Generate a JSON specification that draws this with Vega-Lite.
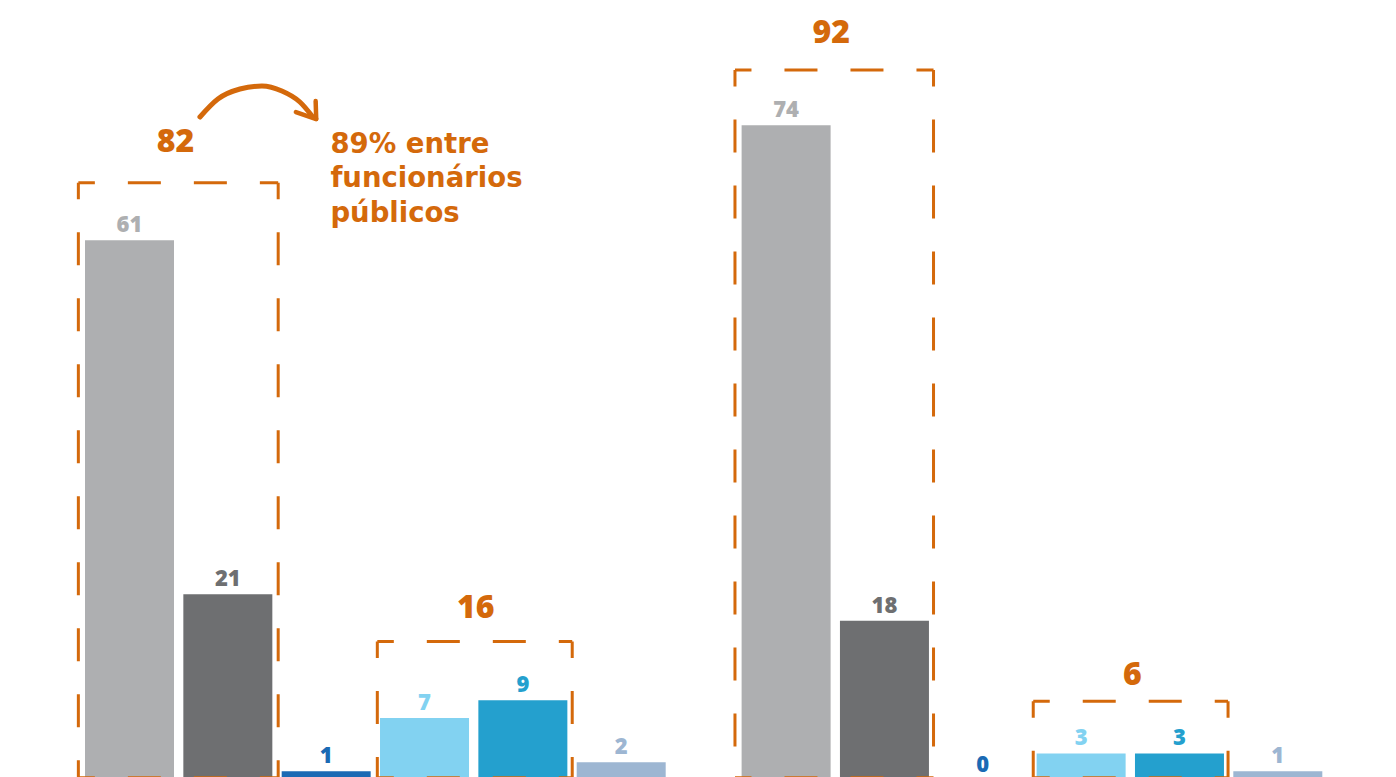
{
  "$schema": "https://vega.github.io/schema/vega-lite/v6.json",
  "width": 1396,
  "height": 777,
  "padding": 0,
  "autosize": {"type": "none"},
  "background": "white",
  "config": {"view": {"stroke": null}},
  "datasets": {
    "bars": [
      {"grupo": "1", "pos": 0, "serie": "s1", "valor": 61},
      {"grupo": "1", "pos": 1, "serie": "s2", "valor": 21},
      {"grupo": "1", "pos": 2, "serie": "s3", "valor": 1},
      {"grupo": "1", "pos": 3, "serie": "s4", "valor": 7},
      {"grupo": "1", "pos": 4, "serie": "s5", "valor": 9},
      {"grupo": "1", "pos": 5, "serie": "s6", "valor": 2},
      {"grupo": "2", "pos": 6.677, "serie": "s1", "valor": 74},
      {"grupo": "2", "pos": 7.677, "serie": "s2", "valor": 18},
      {"grupo": "2", "pos": 8.677, "serie": "s3", "valor": 0},
      {"grupo": "2", "pos": 9.677, "serie": "s4", "valor": 3},
      {"grupo": "2", "pos": 10.677, "serie": "s5", "valor": 3},
      {"grupo": "2", "pos": 11.677, "serie": "s6", "valor": 1}
    ],
    "boxes": [
      {"x1": -0.52, "x2": 1.512, "top": 67.5, "total": "82", "tx": 0.4675, "ty": 70.96},
      {"x1": 2.52, "x2": 4.502, "top": 15.65, "total": "16", "tx": 3.521, "ty": 18.3},
      {"x1": 6.157, "x2": 8.176, "top": 80.23, "total": "92", "tx": 7.136, "ty": 83.28},
      {"x1": 9.19, "x2": 11.171, "top": 8.9, "total": "6", "tx": 10.198, "ty": 10.73}
    ],
    "arc": [
      {"x": 0.7165, "y": 74.92},
      {"x": 0.899, "y": 76.95},
      {"x": 1.123, "y": 78.08},
      {"x": 1.3466, "y": 78.42},
      {"x": 1.5498, "y": 77.85},
      {"x": 1.7327, "y": 76.61},
      {"x": 1.8648, "y": 74.92}
    ],
    "head": [
      {"x": 1.893, "y": 76.72, "xe": 1.8987, "ye": 74.69},
      {"x": 1.692, "y": 75.48, "xe": 1.8987, "ye": 74.69}
    ],
    "note": [
      {"x": 2.0427, "y": 70.88, "texto": "89% entre\nfuncionários\npúblicos"}
    ]
  },
  "layer": [
    {
      "data": {"name": "bars"},
      "mark": {"type": "bar", "width": 89},
      "encoding": {
        "x": {"field": "pos", "type": "quantitative", "axis": null,
              "scale": {"type": "linear", "domain": [-1.266, 12.828], "nice": false, "zero": false}},
        "y": {"field": "valor", "type": "quantitative", "axis": null,
              "scale": {"domain": [0.34, 88.14], "nice": false, "zero": false}},
        "y2": {"datum": 0},
        "color": {"field": "serie", "type": "nominal", "legend": null,
                  "scale": {"domain": ["s1", "s2", "s3", "s4", "s5", "s6"],
                            "range": ["#AEAFB1", "#6E6F71", "#1B6AB4", "#82D2F1", "#24A0CE", "#9DB6D2"]}}
      }
    },
    {
      "data": {"name": "bars"},
      "mark": {"type": "text", "font": "Open Sans", "fontWeight": 800, "fontSize": 22, "align": "center", "baseline": "alphabetic", "dy": -8},
      "encoding": {
        "x": {"field": "pos", "type": "quantitative"},
        "y": {"field": "valor", "type": "quantitative"},
        "text": {"field": "valor", "type": "quantitative"},
        "color": {"field": "serie", "type": "nominal", "legend": null}
      }
    },
    {
      "data": {"name": "boxes"},
      "mark": {"type": "rule", "color": "#D4690B", "strokeWidth": 3, "strokeDash": [33, 33], "strokeDashOffset": 16.5},
      "encoding": {
        "x": {"field": "x1", "type": "quantitative"},
        "x2": {"field": "x2"},
        "y": {"field": "top", "type": "quantitative"}
      }
    },
    {
      "data": {"name": "boxes"},
      "mark": {"type": "rule", "color": "#D4690B", "strokeWidth": 3, "strokeDash": [33, 33], "strokeDashOffset": 16.5},
      "encoding": {
        "x": {"field": "x1", "type": "quantitative"},
        "x2": {"field": "x2"},
        "y": {"datum": 0.25}
      }
    },
    {
      "data": {"name": "boxes"},
      "mark": {"type": "rule", "color": "#D4690B", "strokeWidth": 3, "strokeDash": [33, 33], "strokeDashOffset": 16.5},
      "encoding": {
        "x": {"field": "x1", "type": "quantitative"},
        "y": {"field": "top", "type": "quantitative"},
        "y2": {"datum": 0.25}
      }
    },
    {
      "data": {"name": "boxes"},
      "mark": {"type": "rule", "color": "#D4690B", "strokeWidth": 3, "strokeDash": [33, 33], "strokeDashOffset": 16.5},
      "encoding": {
        "x": {"field": "x2", "type": "quantitative"},
        "y": {"field": "top", "type": "quantitative"},
        "y2": {"datum": 0.25}
      }
    },
    {
      "data": {"name": "boxes"},
      "mark": {"type": "text", "font": "Open Sans", "fontWeight": 800, "fontSize": 32, "align": "center", "baseline": "alphabetic", "color": "#D4690B"},
      "encoding": {
        "x": {"field": "tx", "type": "quantitative"},
        "y": {"field": "ty", "type": "quantitative"},
        "text": {"field": "total", "type": "nominal"}
      }
    },
    {
      "data": {"name": "arc"},
      "mark": {"type": "line", "interpolate": "monotone", "color": "#D4690B", "strokeWidth": 5, "strokeCap": "round"},
      "encoding": {
        "x": {"field": "x", "type": "quantitative"},
        "y": {"field": "y", "type": "quantitative"}
      }
    },
    {
      "data": {"name": "head"},
      "mark": {"type": "rule", "color": "#D4690B", "strokeWidth": 4.5, "strokeCap": "round"},
      "encoding": {
        "x": {"field": "x", "type": "quantitative"},
        "y": {"field": "y", "type": "quantitative"},
        "x2": {"field": "xe"},
        "y2": {"field": "ye"}
      }
    },
    {
      "data": {"name": "note"},
      "mark": {"type": "text", "font": "DejaVu Sans", "fontWeight": "bold", "fontSize": 27.5, "align": "left", "baseline": "alphabetic", "lineBreak": "\n", "lineHeight": 34.5, "color": "#D4690B"},
      "encoding": {
        "x": {"field": "x", "type": "quantitative"},
        "y": {"field": "y", "type": "quantitative"},
        "text": {"field": "texto", "type": "nominal"}
      }
    }
  ]
}
